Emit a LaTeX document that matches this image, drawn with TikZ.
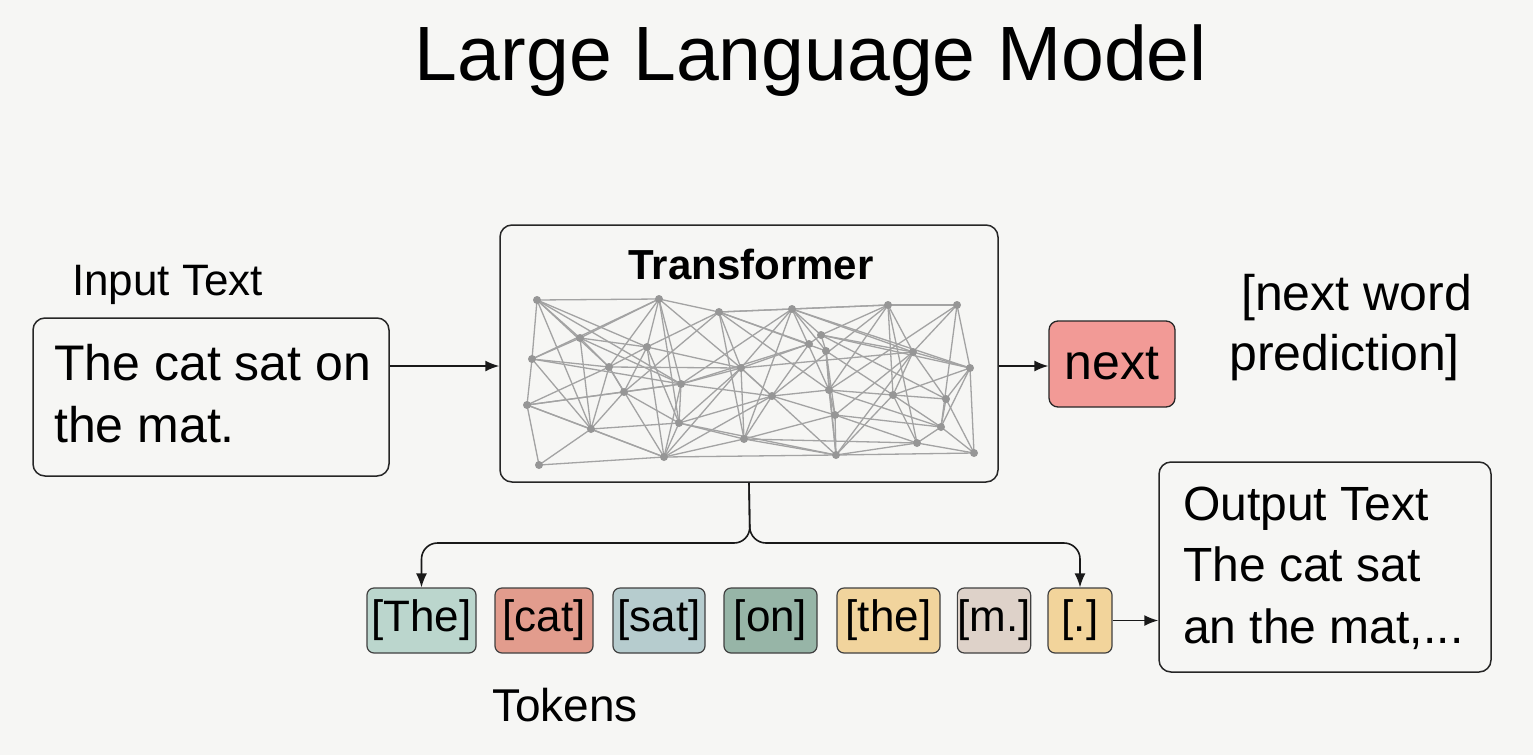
\documentclass[tikz,border=0pt]{standalone}
\usepackage{fontspec}
\setmainfont{Liberation Sans}
\usetikzlibrary{arrows.meta}
\definecolor{bgc}{HTML}{F6F6F4}
\definecolor{netc}{HTML}{A3A3A3}
\definecolor{nextc}{HTML}{F29A96}
\definecolor{tThe}{HTML}{BBD6CD}
\definecolor{tcat}{HTML}{E29C8D}
\definecolor{tsat}{HTML}{B6CCCE}
\definecolor{ton}{HTML}{97B5A7}
\definecolor{tthe}{HTML}{F1D49D}
\definecolor{tm}{HTML}{DED2C9}
\definecolor{tdot}{HTML}{F2D49B}
\tikzset{
  bigbox/.style={draw=black!85, line width=1.5pt, rounded corners=12pt, inner sep=0pt},
  tokbox/.style={draw=black!75, line width=1.2pt, rounded corners=7pt, inner sep=0pt, minimum height=65pt, font=\fontsize{44}{50}\selectfont},
  arr/.style={line width=1.6pt, draw=black!90, -{Latex[length=14pt,width=11pt]}},
  netline/.style={draw=netc, line width=1.3pt},
  netdot/.style={circle, fill=netc!92!black, inner sep=0pt, minimum size=8pt},
  lbl/.style={inner sep=0pt, anchor=base west}
}
\begin{document}
\begin{tikzpicture}[x=1pt,y=-1pt]
\fill[bgc] (0,0) rectangle (1533,755);
\useasboundingbox (0,0) rectangle (1533,755);

% title
\node[inner sep=0pt, anchor=base] (title) at (811,80) {\fontsize{77}{84}\selectfont Large Language Model};

% input
\node[lbl] (inlbl) at (72,295) {\fontsize{44}{50}\selectfont Input Text};
\node[bigbox, minimum width=356pt, minimum height=158pt] (inbox) at (211,397) {};
\node[inner sep=0pt, anchor=base west, align=left, font=\fontsize{50}{62}\selectfont] (intext) at (54,442) {The cat sat on\\the mat.};

% transformer
\node[bigbox, minimum width=498pt, minimum height=257pt] (tf) at (749,353.5) {};
\node[inner sep=0pt, anchor=base, font=\fontsize{42}{48}\selectfont\bfseries] (tftitle) at (751,279) {Transformer};

% network
\foreach \i/\x/\y in {1/537/300,2/659/299,3/719/312,4/792/309,5/888/305,6/957/305,7/580/338,8/647/347,9/532/359,10/609/367,11/741/368,12/821/335,13/826/351,14/809/344,15/913/352,16/970/368,17/681/384,18/624/392,19/772/396,20/829/390,21/893/395,22/946/399,23/527/405,24/679/423,25/591/429,26/744/439,27/835/415,28/941/427,29/917/443,30/664/457,31/836/455,32/974/453,33/539/465}
  \coordinate (p\i) at (\x,\y);
\foreach \a/\b in {1/2,1/7,1/8,1/9,1/10,1/25,1/17,2/7,2/8,2/3,2/10,2/17,2/24,2/9,2/11,3/4,3/5,3/8,3/11,3/14,3/18,3/26,3/20,3/13,4/5,4/11,4/12,4/13,4/15,4/17,4/26,4/20,4/16,5/6,5/15,5/12,5/20,5/29,5/19,5/21,6/15,6/16,6/28,6/20,7/9,7/10,7/8,7/17,7/25,8/10,8/18,8/11,8/30,8/24,9/10,9/23,9/17,9/25,10/11,10/18,10/25,10/30,10/23,11/17,11/14,11/19,11/24,11/26,11/15,11/31,11/30,12/13,12/14,12/15,12/16,12/22,13/20,13/27,13/21,13/31,14/19,14/17,15/16,15/21,15/22,15/27,15/31,16/22,16/28,16/32,16/21,17/18,17/19,17/24,17/30,17/23,18/23,18/25,18/24,19/20,19/26,19/27,19/24,19/30,20/21,20/27,20/31,20/28,21/22,21/28,21/29,21/31,22/28,22/32,23/25,23/33,23/30,24/25,24/26,24/30,24/31,25/33,25/30,26/27,26/30,26/31,26/29,27/31,27/28,27/29,28/29,28/32,29/31,29/32,30/31,30/33,31/32}
  \draw[netline] (p\a) -- (p\b);
\foreach \i in {1,...,33}
  \node[netdot] (d\i) at (p\i) {};

% next
\node[bigbox, fill=nextc, rounded corners=9pt, line width=1.3pt, minimum width=126pt, minimum height=86pt, font=\fontsize{50}{56}\selectfont] (next) at (1112,364) {next};
\node[inner sep=0pt, anchor=base west, align=left, font=\fontsize{50}{60}\selectfont] (pred) at (1229,370) {\hspace*{12pt}[next word\\prediction]};

% arrows
\coordinate (mid) at (0,366);
\draw[arr] (inbox.east |- mid) -- (tf.west |- mid);
\draw[arr] (tf.east |- mid) -- (next.west |- mid);

% tokens
\node[tokbox, fill=tThe, minimum width=109pt] (kThe) at (421.5,620.5) {[The]};
\node[tokbox, fill=tcat, minimum width=98pt] (kcat) at (544,620.5) {[cat]};
\node[tokbox, fill=tsat, minimum width=92pt] (ksat) at (659,620.5) {[sat]};
\node[tokbox, fill=ton, minimum width=93pt] (kon) at (770.5,620.5) {[on]};
\node[tokbox, fill=tthe, minimum width=103pt] (kthe) at (888.5,620.5) {[the]};
\node[tokbox, fill=tm, minimum width=72pt] (km) at (994,620.5) {[m.]};
\node[tokbox, fill=tdot, minimum width=64pt] (kdot) at (1080,620.5) {[.]};
\node[lbl] (toklbl) at (492,721) {\fontsize{46}{50}\selectfont Tokens};

% branch
\coordinate (split) at (750,543);
\draw[arr, rounded corners=16pt] (tf.south) -- (split) -- (kThe.north |- split) -- (kThe.north);
\draw[arr, rounded corners=16pt] (tf.south) -- (split) -- (kdot.north |- split) -- (kdot.north);

% output
\node[bigbox, minimum width=332pt, minimum height=210pt] (outbox) at (1325,567) {};
\node[inner sep=0pt, anchor=base west, align=left, font=\fontsize{48}{61.5}\selectfont] (outtext) at (1183,643) {Output Text\\The cat sat\\an the mat,...};
\draw[arr] (kdot.east) -- (outbox.west |- kdot.east);
\end{tikzpicture}
\end{document}
